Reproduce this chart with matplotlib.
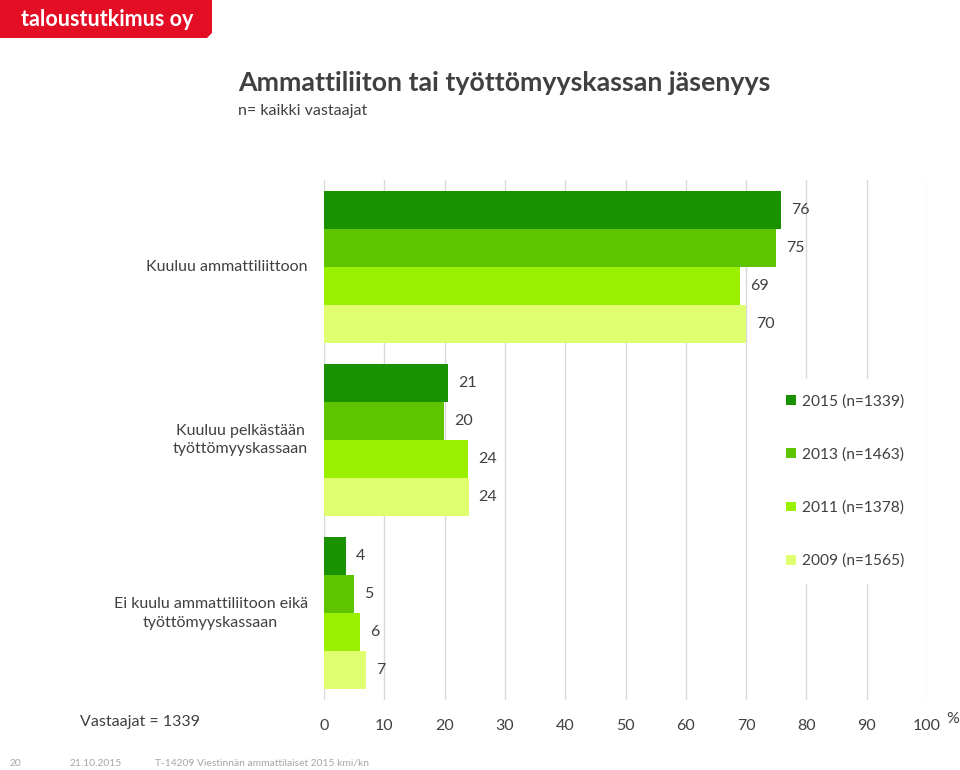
import matplotlib
matplotlib.use("Agg")
import matplotlib.pyplot as plt
from matplotlib.patches import Polygon
import numpy as np

plt.rcParams['font.family'] = ['Lato', 'DejaVu Sans']

categories = ["Kuuluu ammattiliittoon",
              "Kuuluu pelkästään\ntyöttömyyskassaan",
              "Ei kuulu ammattiliitoon eikä\ntyöttömyyskassaan"]
series_names = ["2015 (n=1339)", "2013 (n=1463)", "2011 (n=1378)", "2009 (n=1565)"]
v2015 = [75.8, 20.6, 3.6]
v2013 = [75.0, 19.9, 5.0]
v2011 = [69.0, 23.9, 6.0]
v2009 = [70.0, 24.0, 7.0]
values = [v2015, v2013, v2011, v2009]
colors = ["#1a9200", "#5ec400", "#99f000", "#e0ff70"]
xticks = [0, 10, 20, 30, 40, 50, 60, 70, 80, 90, 100]

W, H = 960, 770
fig = plt.figure(figsize=(W / 100, H / 100), dpi=100)
fig.patch.set_facecolor("white")

ax = fig.add_axes([324 / W, 1 - 700 / H, (927 - 324) / W, (700 - 180) / H])
ax.set_xlim(0, 100)
ax.set_ylim(2.5, -0.5)

h = 0.219
y = np.arange(len(categories))
offsets = [-1.5 * h, -0.5 * h, 0.5 * h, 1.5 * h]
text_col = "#404040"
for vals, off, col, name in zip(values, offsets, colors, series_names):
    ax.barh(y + off, vals, height=h, color=col, label=name, zorder=2)
    for yy, v in zip(y + off, vals):
        ax.annotate(f"{round(v):d}", (v, yy), xytext=(7, 0), textcoords="offset points",
                    va="center", ha="left", fontsize=11.5, color=text_col)

ax.set_xticks(xticks)
ax.set_xticklabels([str(t) for t in xticks], fontsize=11.5, color=text_col)
ax.tick_params(axis="x", length=0, pad=14)
ax.set_yticks([])
ax.grid(axis="x", color="#d9d9d9", linewidth=1, zorder=0)
ax.set_axisbelow(True)
for s in ax.spines.values():
    s.set_visible(False)

for yy, cat in zip(y, categories):
    ax.text(-2.7, yy, cat, ha="right", va="center", multialignment="center",
            fontsize=11.5, color=text_col, linespacing=1.4)

leg = ax.legend(loc="upper left", bbox_to_anchor=(0.728, 0.633), frameon=True,
                fontsize=11.2, labelspacing=2.5, handlelength=0.6, handleheight=0.6,
                handletextpad=0.4, borderpad=1.0, framealpha=1)
leg.get_frame().set_edgecolor("white")
leg.get_frame().set_linewidth(0)
for t in leg.get_texts():
    t.set_color(text_col)
leg.set_zorder(5)

# titles
fig.text(238 / W, 1 - 83 / H, "Ammattiliiton tai työttömyyskassan jäsenyys",
         fontsize=19.3, fontweight="bold", color="#404040", va="center", ha="left")
fig.text(238 / W, 1 - 111 / H, "n= kaikki vastaajat", fontsize=11.5, color="#404040",
         va="center", ha="left")

fig.text(80 / W, 1 - 722 / H, "Vastaajat = 1339", fontsize=11.5, color=text_col,
         va="center", ha="left")
fig.text(946 / W, 1 - 719 / H, "%", fontsize=11.5, color=text_col, va="center", ha="left")

# logo
logo = Polygon([(0, 1), (212 / W, 1), (212 / W, 1 - 33 / H), (207 / W, 1 - 38 / H), (0, 1 - 38 / H)],
               closed=True, transform=fig.transFigure, facecolor="#e30e24", edgecolor="none")
fig.patches.append(logo)
fig.text(107 / W, 1 - 19 / H, "taloustutkimus oy", fontsize=15.5, fontweight="bold",
         color="white", ha="center", va="center")

# footer
fcol = "#a6a6a6"
fig.text(10 / W, 1 - 763 / H, "20", fontsize=7.4, color=fcol, va="center")
fig.text(70 / W, 1 - 763 / H, "21.10.2015", fontsize=7.4, color=fcol, va="center")
fig.text(155 / W, 1 - 763 / H, "T-14209 Viestinnän ammattilaiset 2015 kmi/kn", fontsize=7.4,
         color=fcol, va="center")

fig.savefig("out.png", dpi=100, facecolor="white")
